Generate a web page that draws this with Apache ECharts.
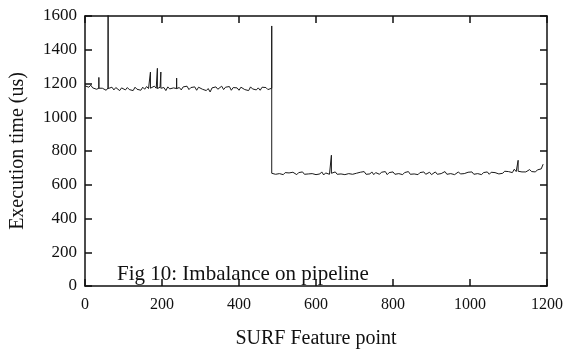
<!DOCTYPE html>
<html>
<head>
<meta charset="utf-8">
<script src="https://cdn.jsdelivr.net/npm/echarts@6/dist/echarts.min.js"></script>
<style>html,body{margin:0;padding:0;background:#fff;}#chart{width:566px;height:354px;}</style>
</head>
<body>
<div id="chart"></div>
<script>
// Execution time (us) per SURF feature point, sampled every 5 feature points
const sampleStep = 5;
const highLevelStart = 0;     // feature points 0..480
const highLevelTimes = [
  1186,1194,1178,1190,1174,1182,1166,1176,1164,1172,
  1180,1160,1174,1168,1178,1162,1176,1166,1158,1174,
  1180,1162,1176,1164,1170,1158,1178,1166,1174,1160,
  1178,1166,1182,1170,1176,1164,1184,1172,1162,1178,
  1166,1176,1158,1180,1168,1160,1174,1182,1166,1176,
  1162,1180,1170,1184,1164,1176,1168,1180,1160,1178,
  1184,1166,1176,1158,1170,1150,1174,1164,1180,1166,
  1176,1184,1164,1178,1170,1182,1160,1176,1166,1174,
  1160,1178,1182,1164,1174,1158,1180,1168,1176,1162,
  1174,1160,1178,1168,1176,1164,1172
];
const lowLevelStart = 490;    // feature points 490..1190
const lowLevelTimes = [
  674,662,670,666,676,660,672,664,670,662,
  674,666,660,672,668,676,662,670,664,672,
  666,674,660,670,664,676,658,670,674,662,
  670,666,676,662,672,664,674,660,670,666,
  676,662,672,668,660,674,666,678,662,670,
  664,676,660,672,668,662,674,666,678,660,
  672,664,676,662,670,666,674,660,672,668,
  678,662,670,664,674,660,672,666,676,662,
  670,674,660,668,676,662,672,666,670,678,
  662,672,666,674,660,670,676,664,672,666,
  660,674,668,676,662,670,666,674,660,672,
  668,676,662,674,666,672,678,664,674,668,
  680,670,678,684,672,692,678,684,690,676,
  686,676,684,690,678,684,676,688,682,694,
  722
];
// isolated spikes: [feature point, peak time, level time]
const spikes = [
  [36, 1236, 1172],
  [60, 1610, 1170],
  [170, 1268, 1172],
  [188, 1290, 1170],
  [197, 1268, 1172],
  [238, 1232, 1170],
  [485, 1541, 1172],
  [640, 775, 668],
  [1125, 745, 680]
];
const transitionLow = 668;
const xTicks = [0, 200, 400, 600, 800, 1000, 1200];
const yTicks = [0, 200, 400, 600, 800, 1000, 1200, 1400, 1600];
const xAxisTitle = 'SURF Feature point';
const yAxisTitle = 'Execution time (us)';
const caption = 'Fig 10: Imbalance on pipeline';

let points = [];
highLevelTimes.forEach((v, i) => points.push([highLevelStart + i * sampleStep, v]));
lowLevelTimes.forEach((v, i) => points.push([lowLevelStart + i * sampleStep, v]));
spikes.forEach(([fp, peak, level], k) => {
  points.push([fp, level]);
  points.push([fp, peak]);
  points.push([fp, k === 6 ? transitionLow : level]);
});
points = points.map((p, i) => ({ p, i }))
  .sort((a, b) => a.p[0] - b.p[0] || a.i - b.i)
  .map(o => o.p);

const serif = '"Liberation Serif", "DejaVu Serif", serif';
const ink = '#111';
const xMin = xTicks[0], xMax = xTicks[xTicks.length - 1], xInt = xTicks[1] - xTicks[0];
const yMin = yTicks[0], yMax = yTicks[yTicks.length - 1], yInt = yTicks[1] - yTicks[0];
const plain = v => String(v);

function axisBase(extra) {
  return Object.assign({
    type: 'value',
    splitLine: { show: false },
    axisLine: { show: true, onZero: false, lineStyle: { color: ink, width: 1.5 } },
    axisTick: { show: true, inside: true, length: 7, lineStyle: { color: ink, width: 1.5 } }
  }, extra);
}

const chart = echarts.init(document.getElementById('chart'), null, { renderer: 'canvas' });
chart.setOption({
  animation: false,
  backgroundColor: '#fff',
  grid: { left: 85, right: 17, top: 16, bottom: 67, containLabel: false },
  xAxis: [
    axisBase({ position: 'bottom', min: xMin, max: xMax, interval: xInt,
      name: xAxisTitle, nameLocation: 'middle', nameGap: 43,
      nameTextStyle: { fontFamily: serif, fontSize: 20, color: ink },
      axisLabel: { fontFamily: serif, fontSize: 16, color: ink, margin: 11, formatter: plain } }),
    axisBase({ position: 'top', min: xMin, max: xMax, interval: xInt, axisLabel: { show: false } })
  ],
  yAxis: [
    axisBase({ position: 'left', min: yMin, max: yMax, interval: yInt,
      name: yAxisTitle, nameLocation: 'middle', nameGap: 57,
      nameTextStyle: { fontFamily: serif, fontSize: 20, color: ink },
      axisLabel: { fontFamily: serif, fontSize: 17, color: ink, margin: 8, formatter: plain } }),
    axisBase({ position: 'right', min: yMin, max: yMax, interval: yInt, axisLabel: { show: false } })
  ],
  series: [{
    type: 'line',
    xAxisIndex: 0, yAxisIndex: 0,
    data: points,
    showSymbol: false,
    clip: true,
    lineStyle: { color: '#1a1a1a', width: 1 }
  }],
  graphic: [{
    type: 'text',
    left: 117, top: 264,
    style: { text: caption, fontFamily: serif, fontSize: 21, fill: ink }
  }]
});
</script>
</body>
</html>
